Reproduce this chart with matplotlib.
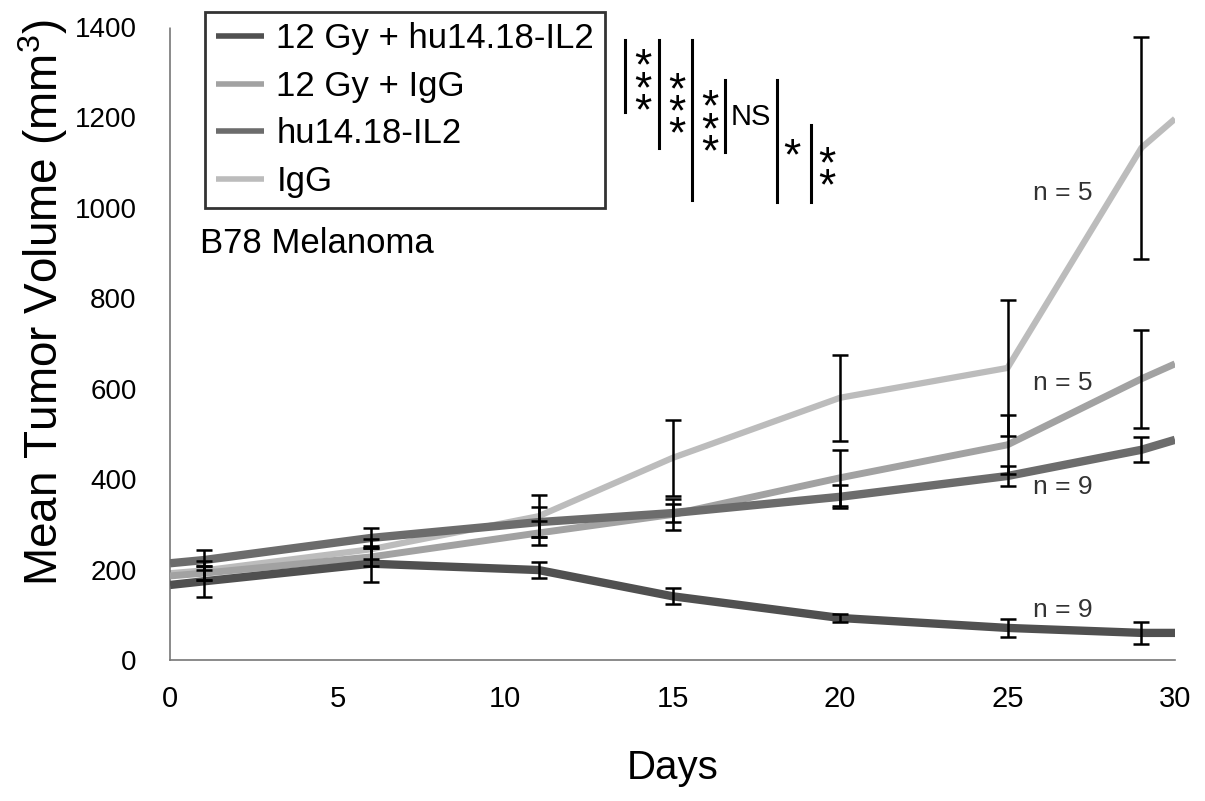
import matplotlib
matplotlib.use('Agg')
import matplotlib.pyplot as plt

plt.rcParams['font.family'] = ['Liberation Sans', 'DejaVu Sans']
plt.rcParams['mathtext.fontset'] = 'custom'
plt.rcParams['mathtext.rm'] = 'Liberation Sans'
plt.rcParams['mathtext.it'] = 'Liberation Sans:italic'

# dias con medida (barra de error) y extremos de cada linea
days = [1, 6, 11, 15, 20, 25, 29]
day_ends = [0, 30]

groups = ['12 Gy + hu14.18-IL2', '12 Gy + IgG', 'hu14.18-IL2', 'IgG']
n_labels = ['n = 9', 'n = 5', 'n = 9', 'n = 5']

rt_hu_mean = [174, 213, 199, 141, 93, 71, 60]
rt_hu_err = [35, 40, 18, 18, 8, 19, 24]
rt_hu_ends = [166, 60]

rt_igg_mean = [192, 228, 281, 322, 403, 476, 622]
rt_igg_err = [15, 20, 27, 35, 62, 65, 108]
rt_igg_ends = [186, 655]

hu_mean = [221, 270, 305, 325, 361, 407, 465]
hu_err = [22, 22, 33, 20, 25, 22, 28]
hu_ends = [214, 487]

igg_mean = [198, 245, 318, 447, 580, 646, 1133]
igg_err = [20, 22, 47, 84, 95, 150, 245]
igg_ends = [192, 1197]

sig_labels = ['*\n*\n*', '*\n*\n*', '*\n*\n*', 'NS', '*', '*\n*']

means = [rt_hu_mean, rt_igg_mean, hu_mean, igg_mean]
errs = [rt_hu_err, rt_igg_err, hu_err, igg_err]
ends = [rt_hu_ends, rt_igg_ends, hu_ends, igg_ends]

colors = ['#505050', '#a2a2a2', '#6c6c6c', '#bcbcbc']
widths = [6, 5, 6, 4.5]
zorders = [5, 3, 4, 2]

fig = plt.figure(figsize=(12.05, 8.01), dpi=100)
ax = fig.add_axes([0.1411, 0.176, 0.834, 0.7903])

for g, m, e, en, c, w, z in zip(groups, means, errs, ends, colors, widths, zorders):
    xs = [day_ends[0]] + days + [day_ends[1]]
    ys = [en[0]] + m + [en[1]]
    ax.plot(xs, ys, color=c, lw=w, label=g, zorder=z, solid_capstyle='butt')
    ax.errorbar(days, m, yerr=e, fmt='none', ecolor='black', elinewidth=1.8,
                capsize=6, capthick=1.8, zorder=6)

ax.set_xlim(0, 30)
ax.set_ylim(0, 1400)
ax.set_xticks(range(0, 31, 5))
ax.set_yticks(range(0, 1401, 200))
ax.tick_params(length=0, labelsize=21)
ax.tick_params(axis='y', labelsize=20, pad=24)
ax.tick_params(axis='x', pad=18)

for s in ['top', 'right']:
    ax.spines[s].set_visible(False)
for s in ['left', 'bottom']:
    ax.spines[s].set_linestyle((0, (1, 1)))
    ax.spines[s].set_color('#777777')
    ax.spines[s].set_linewidth(1.2)

ax.set_xlabel('Days', fontsize=29, labelpad=26)
ax.set_ylabel('Mean Tumor Volume (mm$^3$)', fontsize=33)
ax.yaxis.set_label_coords(-0.10, 0.565)

leg = ax.legend(loc='upper left', bbox_to_anchor=(0.035, 1.024), fontsize=25,
                frameon=True, fancybox=False, edgecolor='black',
                handlelength=1.4, handletextpad=0.35, labelspacing=0.42,
                borderpad=0.3, borderaxespad=0)
leg.get_frame().set_linewidth(2)
for h in leg.get_lines():
    h.set_linewidth(4)

ax.text(0.9, 922, 'B78 Melanoma', fontsize=25, va='center', ha='left')

# barras de significancia: (x, y_bajo, y_alto), texto a la derecha
bar_pos = [(13.58, 1212, 1371), (14.60, 1132, 1371), (15.58, 1018, 1371),
           (16.57, 1124, 1283), (18.12, 1013, 1283), (19.13, 1013, 1184)]
txt_pos = [(14.11, 1287), (15.13, 1236), (16.12, 1197),
           (17.34, 1201), (18.57, 1139), (19.61, 1097)]
for (bx, y0, y1), (tx, ty), lab in zip(bar_pos, txt_pos, sig_labels):
    ax.plot([bx, bx], [y0, y1], color='black', lw=2.2, clip_on=False, zorder=7)
    if lab == 'NS':
        ax.text(tx, ty, lab, fontsize=21, ha='center', va='center')
    else:
        ax.text(tx, ty - 28, lab, fontsize=32, ha='center', va='center',
                linespacing=0.42)

n_y = [111, 613, 383, 1033]
for lab, y in zip(n_labels, n_y):
    ax.text(25.76, y, lab, fontsize=19, ha='left', va='center', color='#333333')

fig.savefig('out.png', dpi=100)
